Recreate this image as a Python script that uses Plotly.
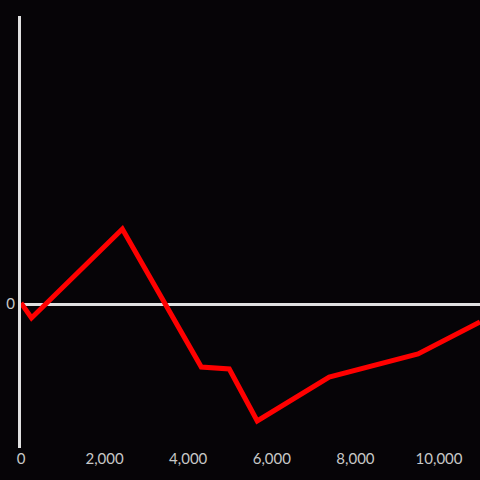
import plotly.graph_objects as go

x_vals = [0, 251, 2425, 4313, 4982, 5651, 7372, 9498, 10980]
y_vals = [1, -14, 75, -63, -65, -117, -73, -50, -18]
x_ticks = [0, 2000, 4000, 6000, 8000, 10000]
x_tick_labels = ["0", "2,000", "4,000", "6,000", "8,000", "10,000"]

fig = go.Figure(go.Scatter(x=x_vals, y=y_vals, mode="lines",
                           line=dict(color="#ff0000", width=5), hoverinfo="skip"))
fig.update_layout(
    width=480, height=480,
    margin=dict(l=21, r=0, t=16, b=32),
    paper_bgcolor="#060407", plot_bgcolor="#060407",
    showlegend=False,
    font=dict(family="Lato", size=15, color="#c8c8c8"),
)
fig.update_xaxes(range=[0, 10980], tickvals=x_ticks, ticktext=x_tick_labels,
                 showgrid=False, zeroline=False, showline=False, ticks="")
fig.update_yaxes(range=[-144, 288], tickvals=[0], ticktext=["0"],
                 showgrid=False, zeroline=True, zerolinecolor="#e0e0e0", zerolinewidth=3,
                 showline=True, linecolor="#e0e0e0", linewidth=3, ticks="")
fig.write_html("out.html", config={"displayModeBar": False},
               post_script="document.body.style.margin='0';document.body.style.background='#060407';")
